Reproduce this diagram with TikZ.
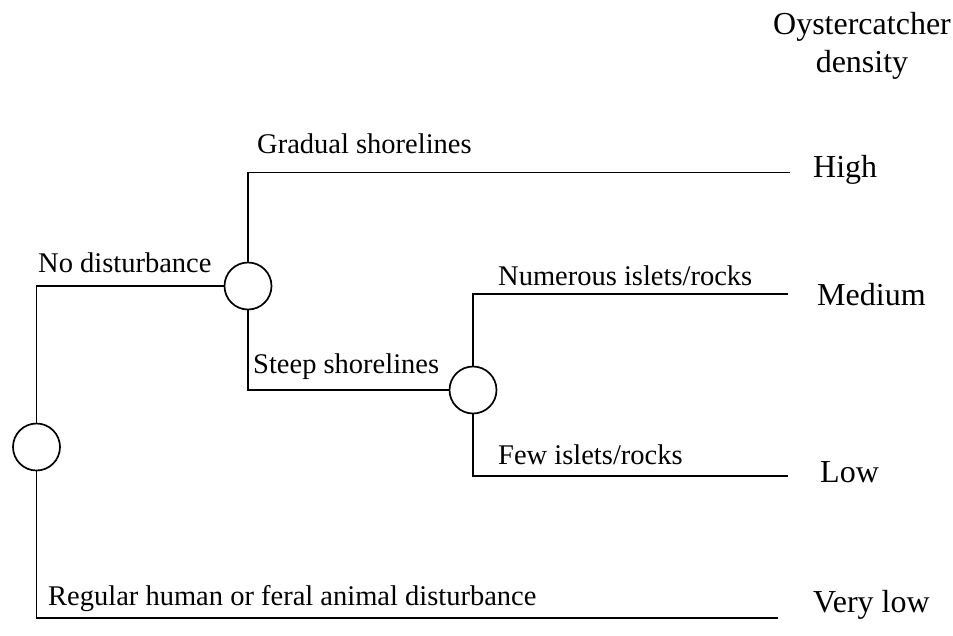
\documentclass[tikz,border=0pt]{standalone}
\usepackage{fontspec}
\setmainfont{Liberation Serif}
\usetikzlibrary{positioning}

\tikzset{
  chance/.style={draw, circle, minimum size=47pt, inner sep=0pt, line width=1.7pt},
  branch/.style={line width=1.7pt},
  pathlabel/.style={anchor=base west, inner sep=0pt, font=\fontsize{28.5}{32}\selectfont},
  outcome/.style={anchor=base west, inner sep=0pt, font=\fontsize{32}{37}\selectfont}
}

\begin{document}
\begin{tikzpicture}[x=1pt, y=-1pt] % pixel coordinates
        \useasboundingbox (0,0) rectangle (953,635);

        % Chance nodes
        \node[chance] (dist) at (36.5,447) {};
        \node[chance] (shore) at (248,286) {};
        \node[chance] (islets) at (473,390) {};

        % End points of the branches
        \coordinate (endhigh) at (790,172.5);
        \coordinate (endmed) at (788,294);
        \coordinate (endlow) at (788,476);
        \coordinate (endvlow) at (778,618);

        % Branches
        \draw[branch] (dist.north) |- (shore.west);
        \draw[branch] (dist.south) |- (endvlow);
        \draw[branch] (shore.north) |- (endhigh);
        \draw[branch] (shore.south) |- (islets.west);
        \draw[branch] (islets.north) |- (endmed);
        \draw[branch] (islets.south) |- (endlow);

        % Branch labels
        \node[pathlabel] (nodist) at (38,272) {No disturbance};
        \node[pathlabel] (gradual) at (257,153) {Gradual shorelines};
        \node[pathlabel] (steep) at (253,373) {Steep shorelines};
        \node[pathlabel] (numerous) at (498,285) {Numerous islets/rocks};
        \node[pathlabel] (few) at (498,464) {Few islets/rocks};
        \node[pathlabel] (regular) at (48,605) {Regular human or feral animal disturbance};

        % Density labels
        \node[outcome, anchor=base] (head) at (862,34) {Oystercatcher};
        \node[outcome, anchor=base] (headb) at (862,72) {density};
        \node[outcome] (high) at (813,177) {High};
        \node[outcome] (medium) at (817,305) {Medium};
        \node[outcome] (low) at (820,482) {Low};
        \node[outcome] (vlow) at (813,612) {Very low};
\end{tikzpicture}
\end{document}
